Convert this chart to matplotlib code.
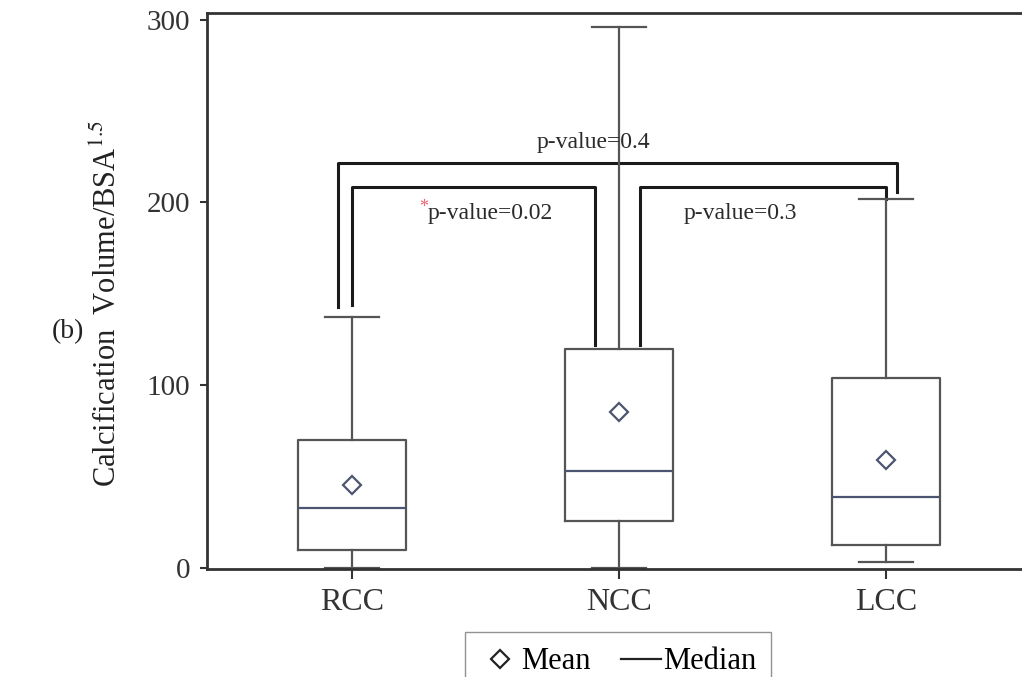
import matplotlib
matplotlib.use("Agg")
from matplotlib import pyplot as plt
from matplotlib.lines import Line2D

plt.rcParams['font.family'] = ['Liberation Serif', 'DejaVu Serif']
plt.rcParams['mathtext.fontset'] = 'stix'

# datos
grupos = ["RCC", "NCC", "LCC"]
minimos = [0, 0, 3]
q1 = [9.6, 25.5, 12.3]
medianas = [32.6, 52.9, 38.6]
q3 = [69.9, 119.7, 103.8]
maximos = [137, 296, 202]
medias = [45.2, 85.2, 58.9]

# comparaciones: (x izq, x der, altura, fin izq, fin der)
corchetes = [
    (0.948, 3.04, 221.6, 142.6, 205.8),
    (1.0, 1.91, 208.5, 143.8, 122.0),
    (2.08, 3.0, 208.5, 122.0, 202.0),
]
textos_p = ["p-value=0.4", "p-value=0.02", "p-value=0.3"]
pos_texto = [(1.693, 232.6), (1.285, 194.0), (2.243, 194.0)]

gris = "#555555"
azulgris = "#4b5570"

fig = plt.figure(figsize=(10.22, 6.77), dpi=100)
ax = fig.add_axes([0.2025, 0.1595, 0.7975, 0.8213])

stats = []
for i, g in enumerate(grupos):
    stats.append({"label": g, "whislo": minimos[i], "q1": q1[i], "med": medianas[i],
                  "q3": q3[i], "whishi": maximos[i], "mean": medias[i], "fliers": []})

ax.bxp(stats, positions=[1, 2, 3], widths=0.405, showmeans=True, showfliers=False,
       boxprops=dict(color=gris, linewidth=1.6),
       whiskerprops=dict(color=gris, linewidth=1.6),
       capprops=dict(color=gris, linewidth=1.6),
       medianprops=dict(color=azulgris, linewidth=1.6),
       meanprops=dict(marker="D", markerfacecolor="white", markeredgecolor=azulgris,
                      markeredgewidth=1.6, markersize=9))

for (x0, x1, h, e0, e1) in corchetes:
    ax.plot([x0, x0, x1, x1], [e0, h, h, e1], color="#1a1a1a", linewidth=2.2,
            solid_joinstyle="round", zorder=1)

for t, (x, y) in zip(textos_p, pos_texto):
    ax.text(x, y, t, fontsize=17, color="#2a2a2a", ha="left", va="center")
ax.text(pos_texto[1][0], 197, "*", fontsize=13, color="#f06070", ha="right", va="center")

ax.set_xlim(0.457, 3.51)
ax.set_ylim(-0.8, 303.8)
ax.set_yticks([0, 100, 200, 300])
ax.tick_params(axis="y", labelsize=21, length=5, width=1.5, pad=7, colors="#333333")
ax.tick_params(axis="x", labelsize=23, length=7, width=1.5, pad=7, colors="#333333")
ax.spines["right"].set_visible(False)
for s in ["left", "bottom", "top"]:
    ax.spines[s].set_linewidth(2)
    ax.spines[s].set_color("#333333")

ax.set_ylabel("Calcification  Volume/BSA$^{1.5}$", fontsize=22, color="#222222")
ax.yaxis.set_label_coords(-0.103, 0.478)

fig.text(68 / 1022, 1 - 332 / 677, "(b)", fontsize=20, ha="center", va="center", color="#222222")

handles = [Line2D([], [], linestyle="none", marker="D", markerfacecolor="white",
                  markeredgecolor="#222222", markeredgewidth=1.6, markersize=9),
           Line2D([], [], color="#222222", linewidth=1.6)]
fig.legend(handles, ["Mean", "Median"], loc="upper center", ncol=2,
           bbox_to_anchor=(618 / 1022, 1 - 632 / 677), fontsize=22, frameon=True,
           fancybox=False, edgecolor="#777777", handlelength=1.3, handletextpad=0.05,
           columnspacing=1.0, borderpad=0.5, borderaxespad=0)

plt.savefig("out.png", dpi=100)
plt.close()
